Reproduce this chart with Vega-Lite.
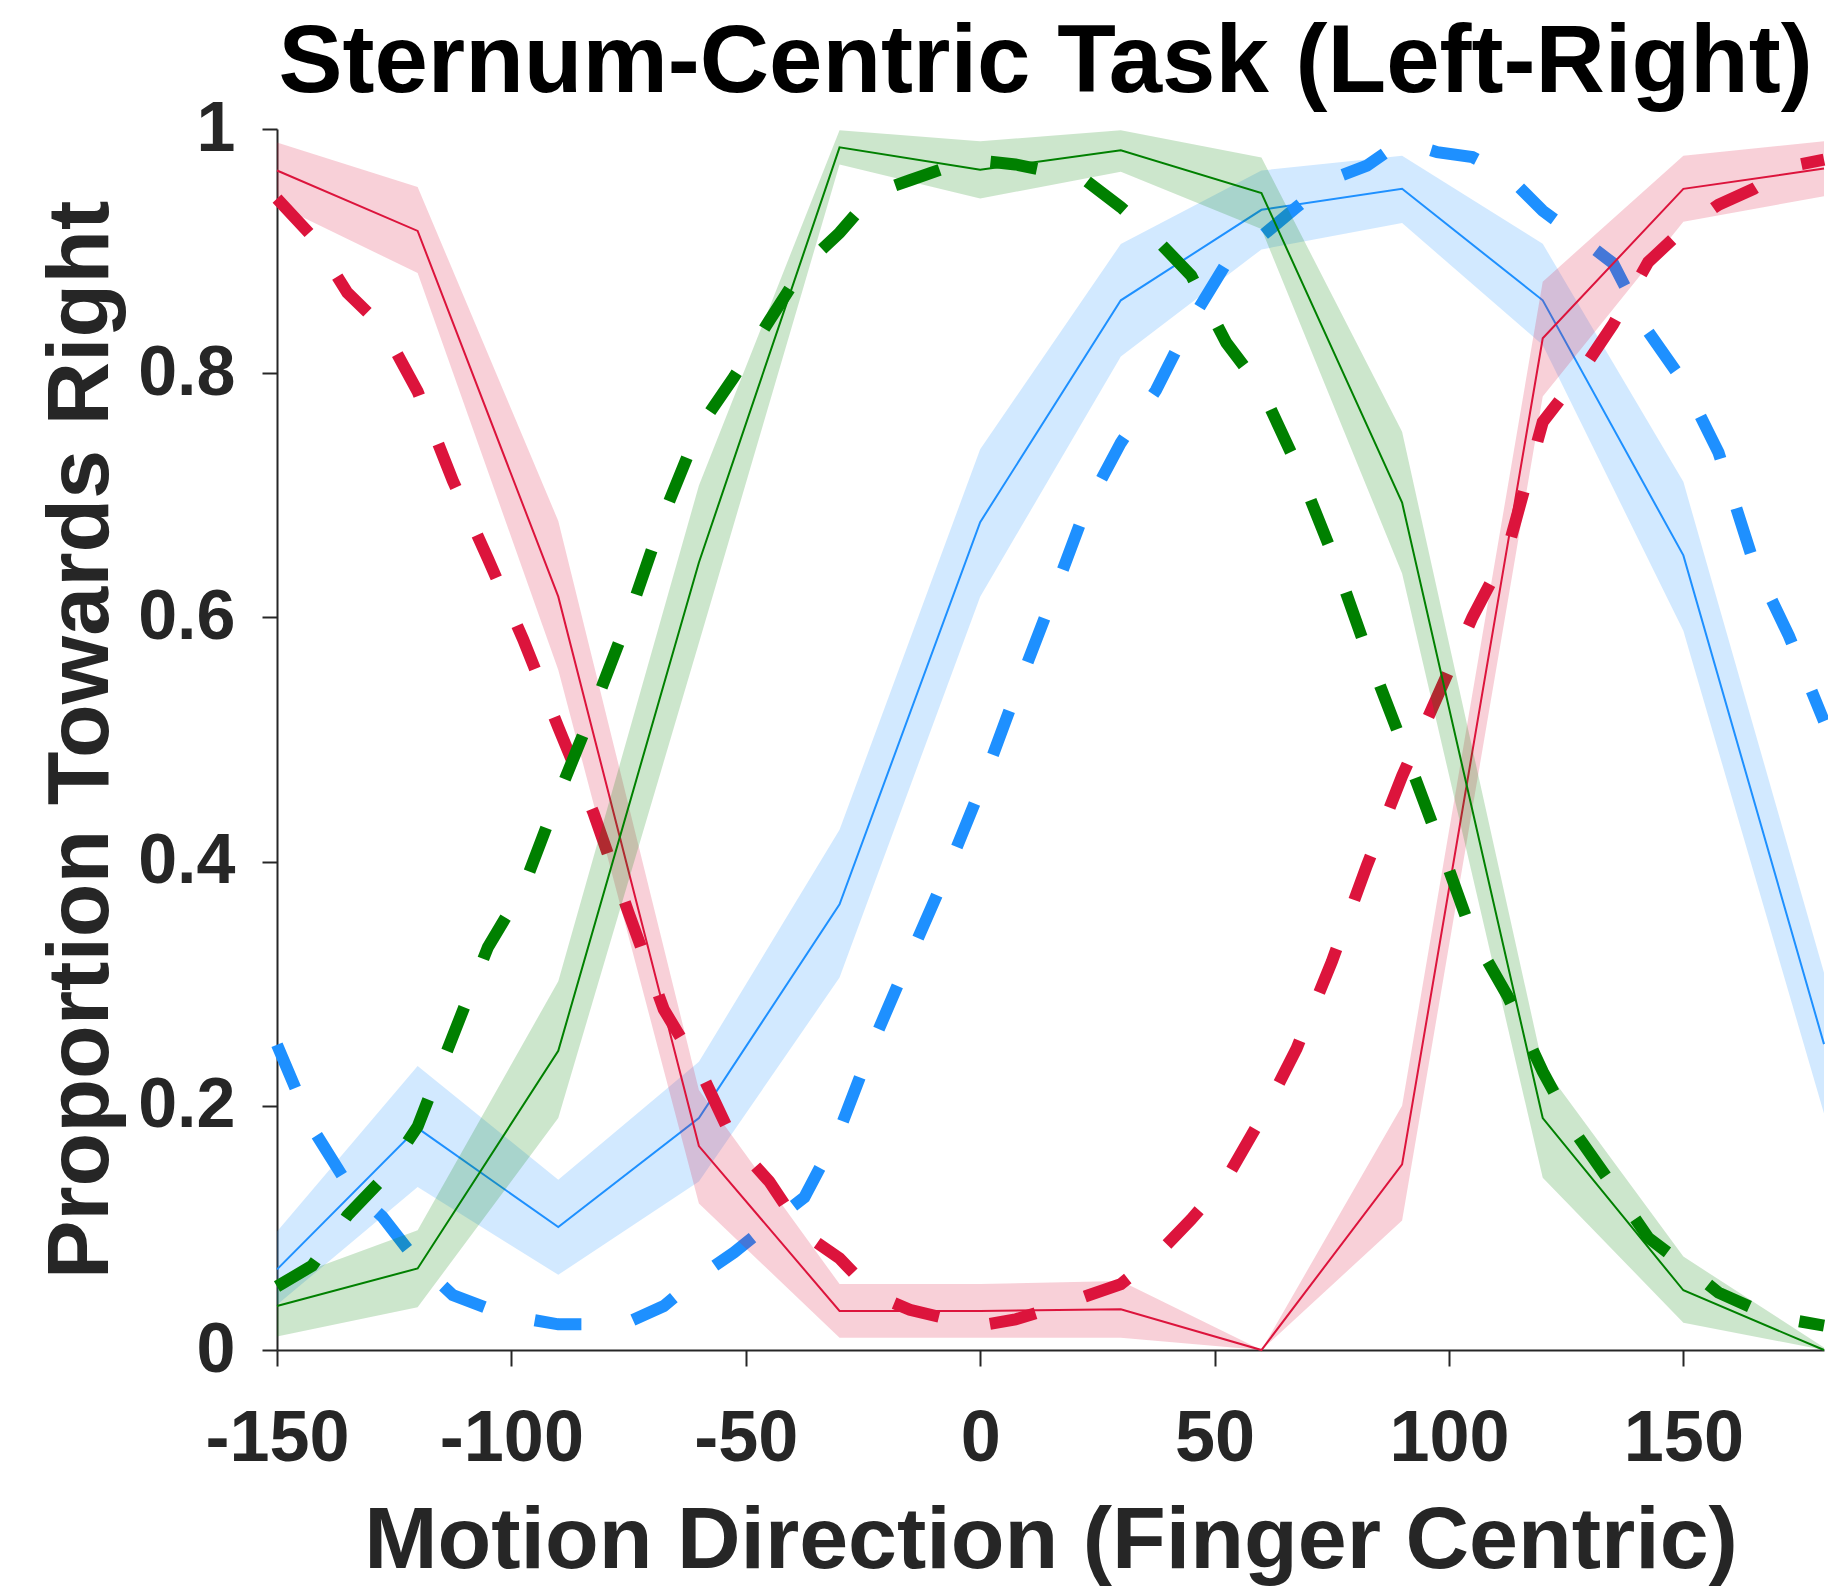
{
  "$schema": "https://vega.github.io/schema/vega-lite/v6.json",
  "width": 1547,
  "height": 1221,
  "autosize": {"type": "none"},
  "padding": {"left": 277, "top": 129, "right": 4, "bottom": 236},
  "background": "white",
  "title": {
    "text": "Sternum-Centric Task (Left-Right)",
    "font": "Liberation Sans",
    "fontSize": 96,
    "fontWeight": "bold",
    "color": "#000000",
    "anchor": "middle",
    "offset": -18,
    "dx": -5
  },
  "datasets": {
    "obsBlue": [
      {"dir": -150, "m": 0.066, "lo": 0.037, "hi": 0.097},
      {"dir": -120, "m": 0.1817, "lo": 0.1334, "hi": 0.2325},
      {"dir": -90, "m": 0.1007, "lo": 0.0616, "hi": 0.1395},
      {"dir": -60, "m": 0.19, "lo": 0.138, "hi": 0.236},
      {"dir": -30, "m": 0.365, "lo": 0.305, "hi": 0.426},
      {"dir": 0, "m": 0.678, "lo": 0.617, "hi": 0.7377},
      {"dir": 30, "m": 0.8597, "lo": 0.8136, "hi": 0.9058},
      {"dir": 60, "m": 0.9338, "lo": 0.9014, "hi": 0.966},
      {"dir": 90, "m": 0.951, "lo": 0.923, "hi": 0.978},
      {"dir": 120, "m": 0.8597, "lo": 0.823, "hi": 0.906},
      {"dir": 150, "m": 0.6508, "lo": 0.589, "hi": 0.711},
      {"dir": 180, "m": 0.2505, "lo": 0.1936, "hi": 0.309}
    ],
    "obsRed": [
      {"dir": -150, "m": 0.966, "lo": 0.938, "hi": 0.989},
      {"dir": -120, "m": 0.9165, "lo": 0.882, "hi": 0.9526},
      {"dir": -90, "m": 0.617, "lo": 0.557, "hi": 0.679},
      {"dir": -60, "m": 0.167, "lo": 0.12, "hi": 0.213},
      {"dir": -30, "m": 0.032, "lo": 0.01, "hi": 0.054},
      {"dir": 0, "m": 0.032, "lo": 0.01, "hi": 0.054},
      {"dir": 30, "m": 0.0334, "lo": 0.01, "hi": 0.0565},
      {"dir": 60, "m": 0.0, "lo": 0.0, "hi": 0.0},
      {"dir": 90, "m": 0.152, "lo": 0.106, "hi": 0.2},
      {"dir": 120, "m": 0.8286, "lo": 0.781, "hi": 0.875},
      {"dir": 150, "m": 0.951, "lo": 0.924, "hi": 0.978},
      {"dir": 180, "m": 0.9676, "lo": 0.945, "hi": 0.99}
    ],
    "obsGreen": [
      {"dir": -150, "m": 0.036, "lo": 0.011, "hi": 0.0557},
      {"dir": -120, "m": 0.0668, "lo": 0.035, "hi": 0.098},
      {"dir": -90, "m": 0.245, "lo": 0.19, "hi": 0.302},
      {"dir": -60, "m": 0.645, "lo": 0.579, "hi": 0.708},
      {"dir": -30, "m": 0.985, "lo": 0.971, "hi": 0.999},
      {"dir": 0, "m": 0.9666, "lo": 0.943, "hi": 0.99},
      {"dir": 30, "m": 0.9826, "lo": 0.965, "hi": 0.999},
      {"dir": 60, "m": 0.9475, "lo": 0.918, "hi": 0.9767},
      {"dir": 90, "m": 0.694, "lo": 0.636, "hi": 0.752},
      {"dir": 120, "m": 0.19, "lo": 0.141, "hi": 0.233},
      {"dir": 150, "m": 0.0489, "lo": 0.0224, "hi": 0.0765},
      {"dir": 180, "m": 0.0, "lo": 0.0, "hi": 0.002}
    ],
    "modBlue": [
      {"dir": -150, "p": 0.25}, {"dir": -142.5, "p": 0.182}, {"dir": -135, "p": 0.136},
      {"dir": -127.5, "p": 0.109}, {"dir": -120, "p": 0.072}, {"dir": -112.5, "p": 0.045},
      {"dir": -105, "p": 0.034}, {"dir": -97.5, "p": 0.026}, {"dir": -90, "p": 0.021},
      {"dir": -82.5, "p": 0.021}, {"dir": -75, "p": 0.023}, {"dir": -67.5, "p": 0.036},
      {"dir": -60, "p": 0.06}, {"dir": -52.5, "p": 0.08}, {"dir": -45, "p": 0.103},
      {"dir": -37.5, "p": 0.125}, {"dir": -30, "p": 0.18}, {"dir": -22.5, "p": 0.255},
      {"dir": -15, "p": 0.322}, {"dir": -7.5, "p": 0.388}, {"dir": 0, "p": 0.459},
      {"dir": 7.5, "p": 0.537}, {"dir": 15, "p": 0.612}, {"dir": 22.5, "p": 0.689},
      {"dir": 30, "p": 0.743}, {"dir": 37.5, "p": 0.786}, {"dir": 45, "p": 0.843},
      {"dir": 52.5, "p": 0.89}, {"dir": 60, "p": 0.912}, {"dir": 67.5, "p": 0.936},
      {"dir": 75, "p": 0.959}, {"dir": 82.5, "p": 0.97}, {"dir": 90, "p": 0.99},
      {"dir": 97.5, "p": 0.981}, {"dir": 105, "p": 0.977}, {"dir": 112.5, "p": 0.962},
      {"dir": 120, "p": 0.933}, {"dir": 127.5, "p": 0.912}, {"dir": 135, "p": 0.89},
      {"dir": 142.5, "p": 0.834}, {"dir": 150, "p": 0.793}, {"dir": 157.5, "p": 0.735},
      {"dir": 165, "p": 0.645}, {"dir": 172.5, "p": 0.585}, {"dir": 180, "p": 0.515}
    ],
    "modRed": [
      {"dir": -150, "p": 0.943}, {"dir": -142.5, "p": 0.912}, {"dir": -135, "p": 0.866},
      {"dir": -127.5, "p": 0.838}, {"dir": -120, "p": 0.785}, {"dir": -112.5, "p": 0.712},
      {"dir": -105, "p": 0.648}, {"dir": -97.5, "p": 0.582}, {"dir": -90, "p": 0.51},
      {"dir": -82.5, "p": 0.44}, {"dir": -75, "p": 0.358}, {"dir": -67.5, "p": 0.279},
      {"dir": -60, "p": 0.231}, {"dir": -52.5, "p": 0.17}, {"dir": -45, "p": 0.138},
      {"dir": -37.5, "p": 0.095}, {"dir": -30, "p": 0.075}, {"dir": -22.5, "p": 0.045},
      {"dir": -15, "p": 0.033}, {"dir": -7.5, "p": 0.026}, {"dir": 0, "p": 0.02},
      {"dir": 7.5, "p": 0.025}, {"dir": 15, "p": 0.034}, {"dir": 22.5, "p": 0.044},
      {"dir": 30, "p": 0.054}, {"dir": 37.5, "p": 0.077}, {"dir": 45, "p": 0.107},
      {"dir": 52.5, "p": 0.14}, {"dir": 60, "p": 0.19}, {"dir": 67.5, "p": 0.247},
      {"dir": 75, "p": 0.318}, {"dir": 82.5, "p": 0.397}, {"dir": 90, "p": 0.47},
      {"dir": 97.5, "p": 0.535}, {"dir": 105, "p": 0.6}, {"dir": 112.5, "p": 0.655},
      {"dir": 120, "p": 0.76}, {"dir": 127.5, "p": 0.797}, {"dir": 135, "p": 0.84},
      {"dir": 142.5, "p": 0.891}, {"dir": 150, "p": 0.918}, {"dir": 157.5, "p": 0.938},
      {"dir": 165, "p": 0.951}, {"dir": 172.5, "p": 0.969}, {"dir": 180, "p": 0.975}
    ],
    "modGreen": [
      {"dir": -150, "p": 0.052}, {"dir": -142.5, "p": 0.069}, {"dir": -135, "p": 0.11},
      {"dir": -127.5, "p": 0.14}, {"dir": -120, "p": 0.183}, {"dir": -112.5, "p": 0.257},
      {"dir": -105, "p": 0.33}, {"dir": -97.5, "p": 0.378}, {"dir": -90, "p": 0.454},
      {"dir": -82.5, "p": 0.525}, {"dir": -75, "p": 0.6}, {"dir": -67.5, "p": 0.684},
      {"dir": -60, "p": 0.755}, {"dir": -52.5, "p": 0.797}, {"dir": -45, "p": 0.843},
      {"dir": -37.5, "p": 0.888}, {"dir": -30, "p": 0.915}, {"dir": -22.5, "p": 0.948},
      {"dir": -15, "p": 0.958}, {"dir": -7.5, "p": 0.968}, {"dir": 0, "p": 0.974},
      {"dir": 7.5, "p": 0.971}, {"dir": 15, "p": 0.965}, {"dir": 22.5, "p": 0.958},
      {"dir": 30, "p": 0.936}, {"dir": 37.5, "p": 0.91}, {"dir": 45, "p": 0.88},
      {"dir": 52.5, "p": 0.825}, {"dir": 60, "p": 0.787}, {"dir": 67.5, "p": 0.725},
      {"dir": 75, "p": 0.653}, {"dir": 82.5, "p": 0.572}, {"dir": 90, "p": 0.497},
      {"dir": 97.5, "p": 0.42}, {"dir": 105, "p": 0.34}, {"dir": 112.5, "p": 0.29},
      {"dir": 120, "p": 0.228}, {"dir": 127.5, "p": 0.175}, {"dir": 135, "p": 0.134},
      {"dir": 142.5, "p": 0.092}, {"dir": 150, "p": 0.07}, {"dir": 157.5, "p": 0.047},
      {"dir": 165, "p": 0.034}, {"dir": 172.5, "p": 0.025}, {"dir": 180, "p": 0.02}
    ]
  },
  "encoding": {
    "x": {
      "field": "dir",
      "type": "quantitative",
      "scale": {"domain": [-150, 180], "nice": false, "zero": false},
      "axis": {
        "title": "Motion Direction (Finger Centric)",
        "values": [-150, -100, -50, 0, 50, 100, 150],
        "labelExpr": "datum.value < 0 ? '-' + abs(datum.value) : '' + datum.value"
      }
    }
  },
  "layer": [
    {
      "data": {"name": "obsBlue"},
      "mark": {"type": "area", "color": "#1E90FF", "opacity": 0.2},
      "encoding": {
        "y": {"field": "lo", "type": "quantitative", "scale": {"domain": [0, 1], "nice": false}, "axis": {"title": "Proportion Towards Right", "values": [0, 0.2, 0.4, 0.6, 0.8, 1], "format": ".1~f"}},
        "y2": {"field": "hi"}
      }
    },
    {
      "data": {"name": "obsBlue"},
      "mark": {"type": "line", "color": "#1E90FF", "strokeWidth": 2},
      "encoding": {"y": {"field": "m", "type": "quantitative", "axis": {"title": "Proportion Towards Right", "values": [0, 0.2, 0.4, 0.6, 0.8, 1], "format": ".1~f"}}}
    },
    {
      "data": {"name": "modBlue"},
      "mark": {"type": "line", "color": "#1E90FF", "strokeWidth": 12, "strokeDash": [47, 52], "strokeCap": "butt"},
      "encoding": {"y": {"field": "p", "type": "quantitative", "axis": {"title": "Proportion Towards Right", "values": [0, 0.2, 0.4, 0.6, 0.8, 1], "format": ".1~f"}}}
    },
    {
      "data": {"name": "obsRed"},
      "mark": {"type": "area", "color": "#DC143C", "opacity": 0.2},
      "encoding": {
        "y": {"field": "lo", "type": "quantitative", "axis": {"title": "Proportion Towards Right", "values": [0, 0.2, 0.4, 0.6, 0.8, 1], "format": ".1~f"}},
        "y2": {"field": "hi"}
      }
    },
    {
      "data": {"name": "obsRed"},
      "mark": {"type": "line", "color": "#DC143C", "strokeWidth": 2},
      "encoding": {"y": {"field": "m", "type": "quantitative", "axis": {"title": "Proportion Towards Right", "values": [0, 0.2, 0.4, 0.6, 0.8, 1], "format": ".1~f"}}}
    },
    {
      "data": {"name": "modRed"},
      "mark": {"type": "line", "color": "#DC143C", "strokeWidth": 12, "strokeDash": [47, 52], "strokeCap": "butt"},
      "encoding": {"y": {"field": "p", "type": "quantitative", "axis": {"title": "Proportion Towards Right", "values": [0, 0.2, 0.4, 0.6, 0.8, 1], "format": ".1~f"}}}
    },
    {
      "data": {"name": "obsGreen"},
      "mark": {"type": "area", "color": "#008000", "opacity": 0.2},
      "encoding": {
        "y": {"field": "lo", "type": "quantitative", "axis": {"title": "Proportion Towards Right", "values": [0, 0.2, 0.4, 0.6, 0.8, 1], "format": ".1~f"}},
        "y2": {"field": "hi"}
      }
    },
    {
      "data": {"name": "obsGreen"},
      "mark": {"type": "line", "color": "#008000", "strokeWidth": 2},
      "encoding": {"y": {"field": "m", "type": "quantitative", "axis": {"title": "Proportion Towards Right", "values": [0, 0.2, 0.4, 0.6, 0.8, 1], "format": ".1~f"}}}
    },
    {
      "data": {"name": "modGreen"},
      "mark": {"type": "line", "color": "#008000", "strokeWidth": 12, "strokeDash": [47, 52], "strokeCap": "butt"},
      "encoding": {"y": {"field": "p", "type": "quantitative", "axis": {"title": "Proportion Towards Right", "values": [0, 0.2, 0.4, 0.6, 0.8, 1], "format": ".1~f"}}}
    }
  ],
  "config": {
    "view": {"stroke": null},
    "font": "Liberation Sans",
    "axis": {
      "grid": false,
      "domainColor": "#262626",
      "tickColor": "#262626",
      "domainWidth": 2,
      "tickWidth": 2,
      "labelFont": "Liberation Sans",
      "labelFontWeight": "bold",
      "labelColor": "#262626",
      "titleFont": "Liberation Sans",
      "titleFontWeight": "bold",
      "titleColor": "#262626",
      "titleFontSize": 88,
      "labelFlush": false,
      "labelOverlap": false
    },
    "axisX": {"tickSize": 16, "labelPadding": 37, "labelFontSize": 72, "titlePadding": 23},
    "axisY": {"tickSize": 15, "labelPadding": 27, "labelFontSize": 70, "titlePadding": 12}
  }
}
